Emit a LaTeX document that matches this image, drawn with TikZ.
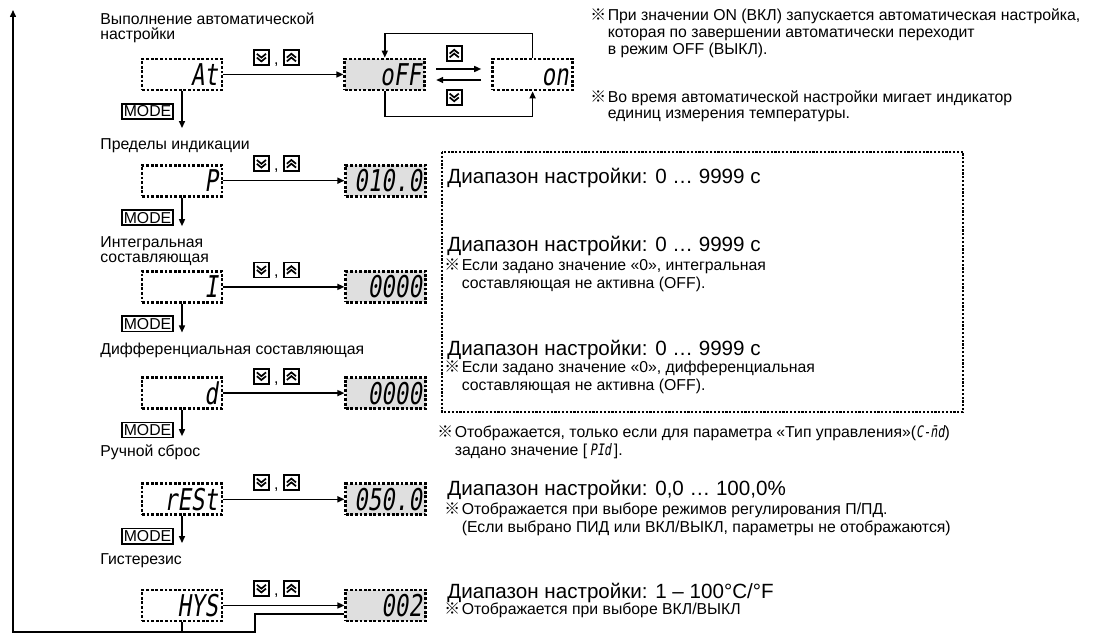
\documentclass[tikz,border=0pt]{standalone}
\usepackage{fontspec}
\setmainfont{Liberation Sans}
\newfontfamily\cjk{Noto Sans CJK SC}
\newfontfamily\segfont{DejaVu Sans Mono}[FakeSlant=0.2]
\usetikzlibrary{arrows.meta}
\usetikzlibrary{positioning}

\newcommand{\rf}{\makebox[5pt][l]{\hspace*{-1.5pt}\cjk ※}}
\newcommand{\ind}{\phantom{\rf\ }}
\newcommand{\seg}[1]{\scalebox{0.75}[1]{\segfont #1}}

\tikzset{
  flow/.style={line width=0.75pt, -{Triangle[length=3.5pt,width=3pt]}},
  wire/.style={line width=0.75pt},
  disp/.style={draw, line width=1.4pt, dash pattern=on 1.4pt off 0.9pt,
    minimum width=40pt, minimum height=15.5pt, inner sep=2pt, text width=36pt,
    align=right, text height=11pt, text depth=0pt, font=\fontsize{15}{15}\selectfont},
  dispon/.style={disp, fill=gray!25},
  dotbox/.style={line width=1.1pt, dash pattern=on 1.1pt off 0.8pt},
  modekey/.style={draw, line width=0.8pt, inner sep=1pt, minimum width=25pt,
    minimum height=7.5pt, font=\fontsize{7.9}{8}\selectfont},
  lbl/.style={anchor=south west, inner sep=0pt, align=left, font=\fontsize{7.9}{7.5}\selectfont},
  rng/.style={anchor=base west, inner sep=0pt, font=\fontsize{10.3}{12}\selectfont},
  note/.style={anchor=north west, inner sep=0pt, align=left, font=\fontsize{7.9}{9}\selectfont},
  keydn/.style={draw, line width=0.9pt, minimum size=7.5pt, inner sep=0pt, fill=white,
    path picture={
      \draw[-, line width=0.85pt] ([shift={(-2.3pt,1.9pt)}]path picture bounding box.center) -- ++(2.3pt,-1.9pt) -- ++(2.3pt,1.9pt);
      \draw[-, line width=0.85pt] ([shift={(-2.3pt,0pt)}]path picture bounding box.center) -- ++(2.3pt,-1.9pt) -- ++(2.3pt,1.9pt);}},
  keyup/.style={draw, line width=0.9pt, minimum size=7.5pt, inner sep=0pt, fill=white,
    path picture={
      \draw[-, line width=0.85pt] ([shift={(-2.3pt,-1.9pt)}]path picture bounding box.center) -- ++(2.3pt,1.9pt) -- ++(2.3pt,-1.9pt);
      \draw[-, line width=0.85pt] ([shift={(-2.3pt,0pt)}]path picture bounding box.center) -- ++(2.3pt,1.9pt) -- ++(2.3pt,-1.9pt);}},
  keys/.pic={
    \node[keydn] (-dn) at (-15,0) {};
    \node[inner sep=0pt, anchor=base, font=\fontsize{7.9}{8}\selectfont] (-cm) at (0,7) {,};
    \node[keyup] (-up) at (15,0) {};
  }
}

\begin{document}
\begin{tikzpicture}[x=0.5pt, y=-0.5pt]
\useasboundingbox (0,0) rectangle (1104,636);

% parameter displays
\node[disp] (at) at (182,74.5) {\seg{At}};
\node[dispon] (off) [right=60pt of at] {\seg{oFF}};
\node[disp] (on) [right=32.5pt of off] {\seg{on}};
\node[disp] (pb) [below=36.2pt of at] {\seg{P}};
\node[dispon] (pv) [right=60.5pt of pb] {\seg{010.0}};
\node[disp] (ib) [below=36.2pt of pb] {\seg{I}};
\node[dispon] (iv) [right=60.5pt of ib] {\seg{0000}};
\node[disp] (db) [below=36.2pt of ib] {\seg{d}};
\node[dispon] (dv) [right=60.5pt of db] {\seg{0000}};
\node[disp] (rst) [below=36.2pt of db] {\seg{rESt}};
\node[dispon] (rv) [right=60.5pt of rst] {\seg{050.0}};
\node[disp] (hys) [below=36.2pt of rst] {\seg{HYS}};
\node[dispon] (hv) [right=60.5pt of hys] {\seg{002}};

% labels
\node[lbl] (lat) at (100,43) {Выполнение автоматической\\настройки};
\node[lbl] (lpb) at (100,153) {Пределы индикации};
\node[lbl] (lib) at (100,266) {Интегральная\\составляющая};
\node[lbl] (ldb) at (100,358) {Дифференциальная составляющая};
\node[lbl] (lrst) at (100,460) {Ручной сброс};
\node[lbl] (lhys) at (100,568) {Гистерезис};

% MODE keys
\node[modekey, anchor=east] (m1) at ([xshift=-4pt,yshift=-10pt]at.south) {MODE};
\node[modekey, anchor=east] (m2) at ([xshift=-4pt,yshift=-10pt]pb.south) {MODE};
\node[modekey, anchor=east] (m3) at ([xshift=-4pt,yshift=-10pt]ib.south) {MODE};
\node[modekey, anchor=east] (m4) at ([xshift=-4pt,yshift=-10pt]db.south) {MODE};
\node[modekey, anchor=east] (m5) at ([xshift=-4pt,yshift=-10pt]rst.south) {MODE};

\draw[flow, shorten >=5pt] (at.south) -- (at.south |- lpb.north);
\draw[flow, shorten >=5pt] (pb.south) -- (pb.south |- lib.north);
\draw[flow, shorten >=5pt] (ib.south) -- (ib.south |- ldb.north);
\draw[flow, shorten >=4pt] (db.south) -- (db.south |- lrst.north);
\draw[flow, shorten >=5pt] (rst.south) -- (rst.south |- lhys.north);

% up/down keys
\draw[flow] (at) -- (off);
\draw[flow] (pb) -- (pv);
\draw[flow] (ib) -- (iv);
\draw[flow] (db) -- (dv);
\draw[flow] (rst) -- (rv);
\draw[flow] (hys) -- (hv);
\pic (k1) at ([xshift=26.5pt]at.north east) {keys};
\pic (k2) at ([xshift=26.5pt]pb.north east) {keys};
\pic (k3) at ([xshift=26.5pt]ib.north east) {keys};
\pic (k4) at ([xshift=26.5pt]db.north east) {keys};
\pic (k5) at ([xshift=26.5pt]rst.north east) {keys};
\pic (k6) at ([xshift=26.5pt]hys.north east) {keys};

% oFF / on
\draw[flow] ([xshift=5pt,yshift=2.75pt]off.east) -- ([xshift=-5pt,yshift=2.75pt]on.west)
  node[pos=0.4, above=3.5pt, keyup] (kup) {};
\draw[flow] ([xshift=-5pt,yshift=-2.75pt]on.west) -- ([xshift=5pt,yshift=-2.75pt]off.east)
  node[pos=0.6, below=4.5pt, keydn] (kdn) {};
\draw[flow] (on.north) -- ++(0,-24) -| (off.north);
\draw[flow] (off.south) -- ++(0,25) -| (on.south);

% back to the top
\coordinate (top) at (13,10);
\coordinate (retc) at (255,632);
\draw[flow] ([yshift=-4.25pt]hv.west) -| (retc) -- (retc -| top) -- (top);
\draw[wire] (hys.south) -- (hys.south |- retc);

% notes
\node[note, font=\fontsize{7.9}{7.4}\selectfont] (nat1) at (593,8)
  {\rf\ При значении ON (ВКЛ) запускается автоматическая настройка,\\\ind которая по завершении автоматически переходит\\\ind в режим OFF (ВЫКЛ).};
\node[note, font=\fontsize{7.9}{8}\selectfont] (nat2) at (593,90)
  {\rf\ Во время автоматической настройки мигает индикатор\\\ind единиц измерения температуры.};

\draw[dotbox] (442,152) rectangle (963,412);
\node[rng] (rpb) at (447,184) {Диапазон настройки: 0 … 9999 с};
\node[rng] (rib) at (447,252) {Диапазон настройки: 0 … 9999 с};
\node[note] (nib) at (447,258) {\rf\ Если задано значение «0», интегральная\\\ind составляющая не активна (OFF).};
\node[rng] (rdb) at (447,356) {Диапазон настройки: 0 … 9999 с};
\node[note] (ndb) at (447,360) {\rf\ Если задано значение «0», дифференциальная\\\ind составляющая не активна (OFF).};
\node[note] (ntype) at (440,425) {\rf\ Отображается, только если для параметра «Тип управления»(\seg{C-\={n}d})\\\ind задано значение [\,\seg{PId}\,].};
\node[rng] (rrst) at (447,495) {Диапазон настройки: 0,0 … 100,0\%};
\node[note] (nrst) at (447,502) {\rf\ Отображается при выборе режимов регулирования П/ПД.\\\ind (Если выбрано ПИД или ВКЛ/ВЫКЛ, параметры не отображаются)};
\node[rng] (rhys) at (447,598) {Диапазон настройки: 1 – 100°C/°F};
\node[note, anchor=base west] (nhys) at (447,614) {\rf\ Отображается при выборе ВКЛ/ВЫКЛ};

\end{tikzpicture}
\end{document}
